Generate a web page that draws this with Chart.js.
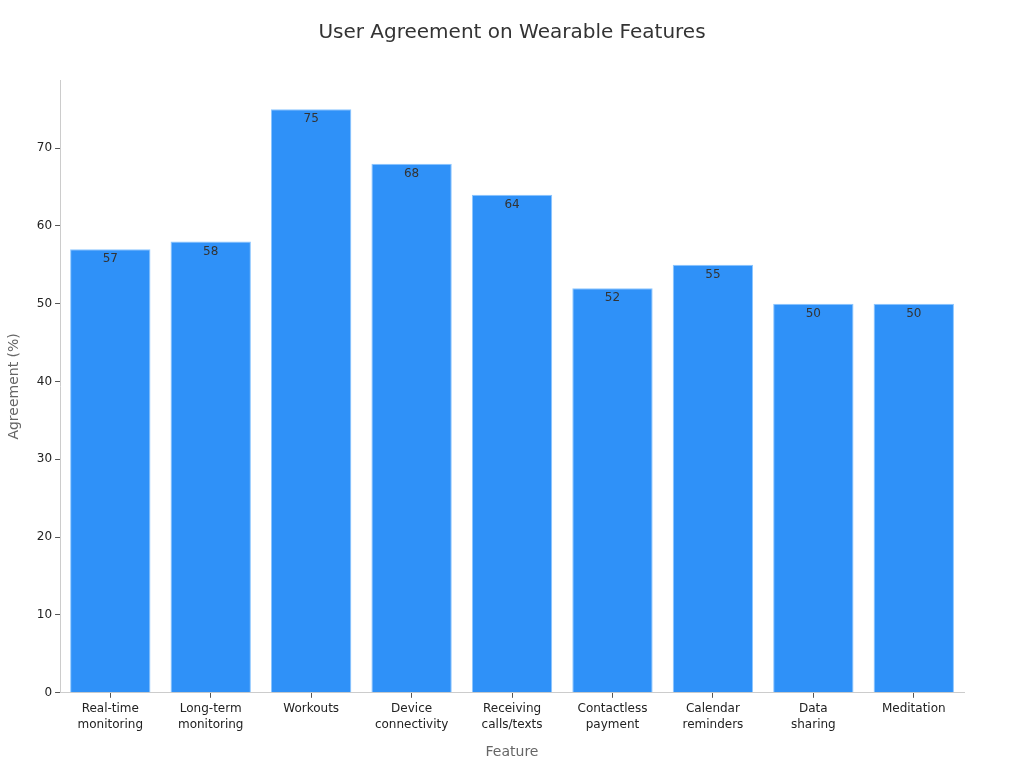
<!DOCTYPE html>
<html>
<head>
<meta charset="utf-8">
<script src="https://cdn.jsdelivr.net/npm/chart.js@4/dist/chart.umd.min.js"></script>
<style>
  html, body { margin: 0; padding: 0; background: #fff; }
  #wrap { width: 1024px; height: 768px; }
</style>
</head>
<body>
<div id="wrap"><canvas id="chart" width="1024" height="768"></canvas></div>
<script>
// 数据
const categories = [
  ['Real-time', 'monitoring'],
  ['Long-term', 'monitoring'],
  'Workouts',
  ['Device', 'connectivity'],
  ['Receiving', 'calls/texts'],
  ['Contactless', 'payment'],
  ['Calendar', 'reminders'],
  ['Data', 'sharing'],
  'Meditation'
];
const agreement = [57, 58, 75, 68, 64, 52, 55, 50, 50];
const yTicks = [0, 10, 20, 30, 40, 50, 60, 70];
const chartTitle = 'User Agreement on Wearable Features';

const FONT = 'DejaVu Sans';

// 标题（按画布居中）
const canvasTitle = {
  id: 'canvasTitle',
  afterDraw(chart) {
    const ctx = chart.ctx;
    ctx.save();
    ctx.font = '20px "' + FONT + '"';
    ctx.fillStyle = '#333';
    ctx.textAlign = 'center';
    ctx.textBaseline = 'middle';
    ctx.fillText(chartTitle, chart.width / 2, 33);
    ctx.restore();
  }
};

// 柱内数值标签
const valueLabels = {
  id: 'valueLabels',
  afterDatasetsDraw(chart) {
    const ctx = chart.ctx;
    const meta = chart.getDatasetMeta(0);
    ctx.save();
    ctx.font = '12px "' + FONT + '"';
    ctx.fillStyle = '#333';
    ctx.textAlign = 'center';
    ctx.textBaseline = 'middle';
    meta.data.forEach((bar, i) => {
      ctx.fillText(String(agreement[i]), bar.x, bar.y + 10);
    });
    ctx.restore();
  }
};

new Chart(document.getElementById('chart'), {
  type: 'bar',
  data: {
    labels: categories,
    datasets: [{
      data: agreement,
      backgroundColor: '#2f91f8',
      borderColor: '#8cc6ff',
      borderWidth: 1,
      barPercentage: 0.8,
      categoryPercentage: 1.0
    }]
  },
  plugins: [valueLabels, canvasTitle],
  options: {
    responsive: false,
    animation: false,
    layout: { padding: { left: 2, right: 60, top: 80, bottom: 3 } },
    plugins: {
      legend: { display: false },
      tooltip: { enabled: false },
      title: { display: false }
    },
    scales: {
      x: {
        grid: { offset: false, drawOnChartArea: false, drawTicks: true, tickLength: 5, color: '#555' },
        border: { color: '#ccc' },
        ticks: { color: '#222', font: { family: FONT, size: 12, lineHeight: 1.35 }, padding: 3, maxRotation: 0 },
        title: {
          display: true, text: 'Feature', color: '#666',
          font: { family: FONT, size: 14 }, padding: { top: 8 }
        }
      },
      y: {
        min: 0,
        max: 78.75,
        afterBuildTicks(axis) { axis.ticks = yTicks.map(v => ({ value: v })); },
        grid: { drawOnChartArea: false, drawTicks: true, tickLength: 5, color: '#555' },
        border: { color: '#ccc' },
        ticks: { color: '#222', font: { family: FONT, size: 12 }, padding: 3 },
        title: {
          display: true, text: 'Agreement (%)', color: '#666',
          font: { family: FONT, size: 14 }, padding: { bottom: 11 }
        }
      }
    }
  }
});
</script>
</body>
</html>
